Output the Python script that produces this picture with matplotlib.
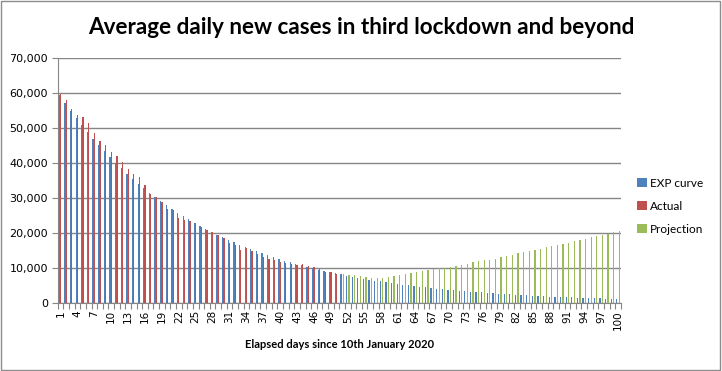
import matplotlib
matplotlib.use("Agg")
import matplotlib.pyplot as plt
from matplotlib.patches import Rectangle
from matplotlib.ticker import FuncFormatter, MultipleLocator
import numpy as np

days = list(range(1, 101))

exp_curve = [
    59500, 57184, 54958, 52819, 50763, 48787, 46888, 45063, 43309, 41623,
    40003, 38446, 36949, 35511, 34129, 32800, 31523, 30296, 29117, 27984,
    26894, 25847, 24841, 23874, 22945, 22052, 21193, 20368, 19575, 18813,
    18081, 17377, 16701, 16051, 15426, 14826, 14249, 13694, 13161, 12649,
    12156, 11683, 11228, 10791, 10371, 9967, 9579, 9206, 8848, 8504,
    8173, 7855, 7549, 7255, 6972, 6701, 6440, 6189, 5948, 5717,
    5494, 5280, 5075, 4877, 4687, 4505, 4329, 4161, 3999, 3843,
    3694, 3550, 3412, 3279, 3151, 3029, 2911, 2797, 2689, 2584,
    2483, 2387, 2294, 2205, 2119, 2036, 1957, 1881, 1808, 1737,
    1670, 1605, 1542, 1482, 1424, 1369, 1316, 1265, 1215, 1168,
]

actual = [
    59600, 57900, 55500, 53600, 53000, 51500, 48600, 46400, 45100, 43000,
    42000, 40200, 38300, 36800, 36000, 33800, 31200, 30300, 28900, 27000,
    26500, 24400, 23800, 23300, 22800, 21600, 21000, 20200, 19400, 18700,
    17200, 16700, 15300, 15600, 14800, 13900, 13300, 12700, 12400, 11700,
    11400, 11200, 11000, 11100, 10700, 10300, 9800, 9000, 8800, 8400,
]

projection = [
    8300, 8100, 7900, 7700, 7500, 7300, 7200, 7200, 7400, 7700,
    8000, 8300, 8600, 8900, 9200, 9400, 9700, 9900, 10100, 10300,
    10700, 11000, 11200, 11600, 11900, 12200, 12400, 12700, 13100, 13500,
    13800, 14200, 14500, 14800, 15200, 15500, 15900, 16200, 16600, 16900,
    17200, 17600, 18000, 18300, 18800, 19200, 19500, 19800, 20300, 20600,
]

actual_days = days[:len(actual)]
proj_days = days[len(days) - len(projection):]

BLUE = "#4F81BD"
RED = "#C0504D"
GREEN = "#9BBB59"
GRID = "#868686"

fig = plt.figure(figsize=(7.22, 3.71), dpi=100)
ax = fig.add_axes([0.080, 0.183, 0.780, 0.661])

w = 1 / 4.5
x = np.array(days)
ax.bar(x - w, exp_curve, width=w, color=BLUE, label="EXP curve", zorder=3)
ax.bar(np.array(actual_days), actual, width=w, color=RED, label="Actual", zorder=3)
ax.bar(np.array(proj_days) + w, projection, width=w, color=GREEN, label="Projection", zorder=3)

ax.set_xlim(0.5, 100.5)
ax.set_ylim(0, 70000)
ax.yaxis.set_major_locator(MultipleLocator(10000))
ax.yaxis.set_major_formatter(FuncFormatter(lambda v, p: f"{int(v):,}"))
ax.grid(axis="y", color=GRID, linewidth=1, zorder=0)

ax.set_xticks(days[::3])
ax.set_xticklabels([str(d) for d in days[::3]], rotation=90, fontsize=7.5,
                   family="DejaVu Sans")
ax.set_xticks(np.arange(0.5, 101, 1), minor=True)
ax.tick_params(axis="x", which="major", length=0, pad=5)
ax.tick_params(axis="x", which="minor", length=4, color=GRID, width=0.8)
ax.tick_params(axis="y", length=4, color=GRID, labelsize=8, pad=3)

for s in ["top", "right"]:
    ax.spines[s].set_visible(False)
for s in ["left", "bottom"]:
    ax.spines[s].set_color(GRID)

ax.set_xlabel("Elapsed days since 10th January 2020", fontsize=8,
              fontweight="bold", family="Lato", labelpad=7)

fig.text(0.50, 0.927, "Average daily new cases in third lockdown and beyond",
         ha="center", va="center", fontsize=16.2, fontweight="bold", family="Lato")

leg = ax.legend(loc="center left", bbox_to_anchor=(1.01, 0.395), frameon=False,
                prop={"family": "Lato", "size": 8.5}, handlelength=0.8,
                handleheight=0.8, handletextpad=0.3, labelspacing=1.0)

fig.patches.append(Rectangle((0.002, 0.003), 0.995, 0.993, transform=fig.transFigure,
                             fill=False, edgecolor="#8C8C8C", linewidth=1))

fig.savefig("out.png", dpi=100)
